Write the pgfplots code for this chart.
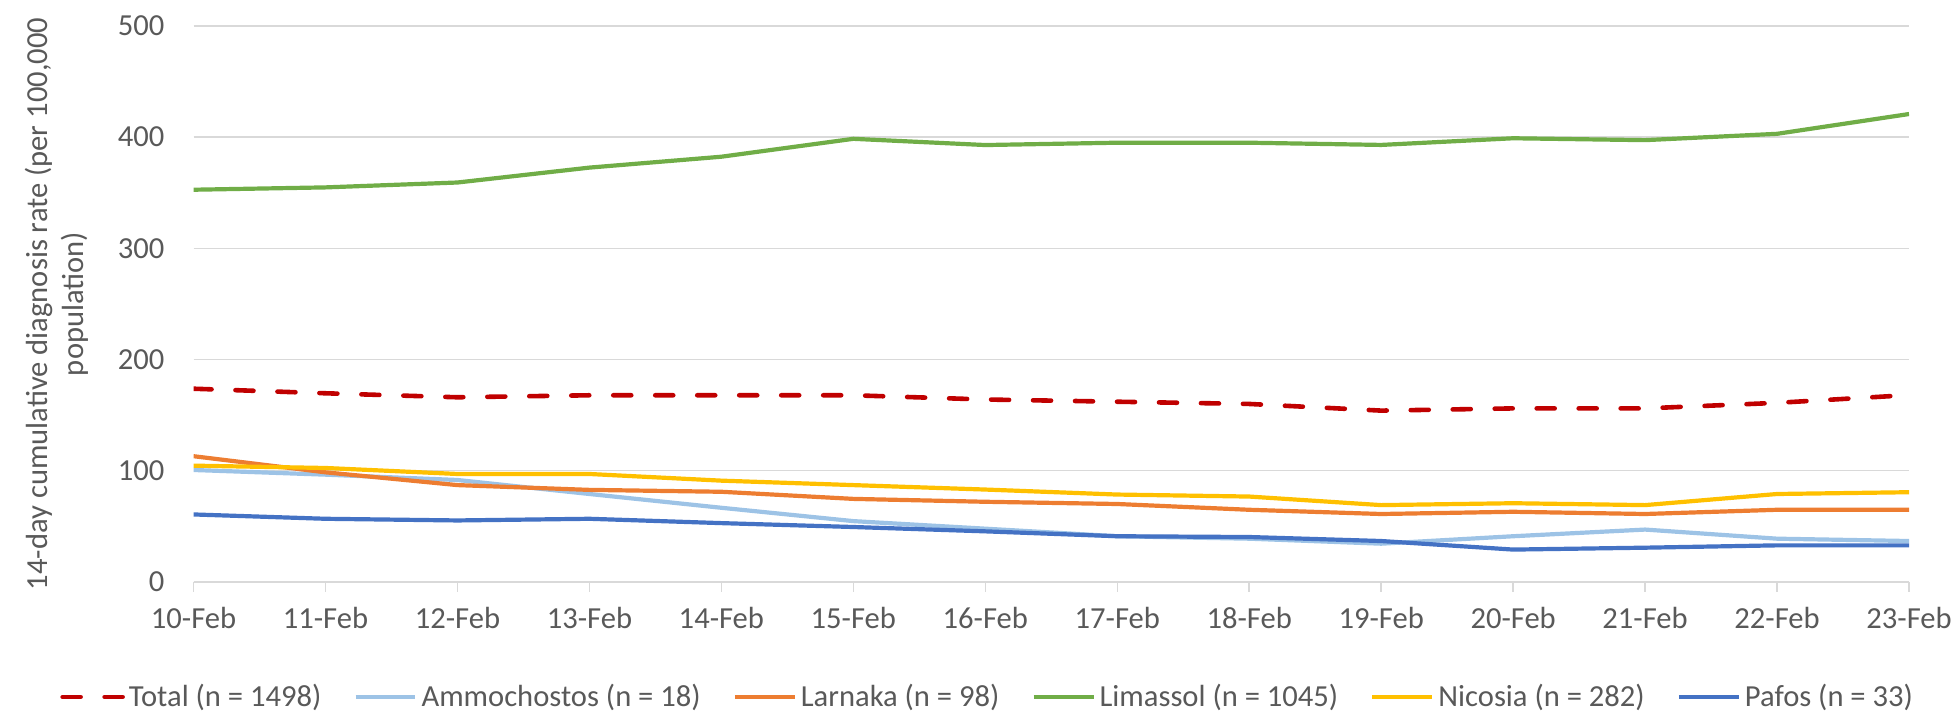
\documentclass[border=0pt]{standalone}
\usepackage{pgfplots}
\pgfplotsset{compat=1.18}
\usepackage{pgfplotstable}
\usepackage{fontspec}
\setmainfont{Carlito}
\definecolor{cTotal}{HTML}{C00000}
\definecolor{cAmmo}{HTML}{9DC3E6}
\definecolor{cLarn}{HTML}{ED7D31}
\definecolor{cLim}{HTML}{70AD47}
\definecolor{cNic}{HTML}{FFC000}
\definecolor{cPaf}{HTML}{4472C4}
\definecolor{gridgray}{HTML}{D9D9D9}
\definecolor{txtgray}{HTML}{595959}
\pgfplotstableread{
x Total Ammo Larn Lim Nic Paf
0 173.7 100.6 113 352.7 104.5 60.6
1 169.6 96.4 98.5 354.8 102.4 56.7
2 166 91.6 87 359.2 97 55.2
3 167.8 79 82.7 372.6 97 56.7
4 167.8 66.6 81 382.4 91 52.8
5 167.8 54.6 74.6 398.5 87 49.3
6 164 47.8 72 392.9 83 45.4
7 162 41 70 395 78.5 41
8 160 38.8 64.8 395 76.7 40.3
9 154 34.3 61 393 69 36.7
10 156 41 63 399 70.7 29
11 156 47 61 397.3 69 30.7
12 161 38.8 64.8 403 79 32.8
13 168 36.7 64.8 420.8 80.6 32.8
}\datatab
\begin{document}
\begin{tikzpicture}[font=\fontsize{15.3}{18}\selectfont]
\begin{axis}[
  scale only axis, width=858pt, height=278pt,
  xmin=0, xmax=13, ymin=0, ymax=500,
  /pgf/number format/assume math mode=true,
  xtick={0,...,13},
  xticklabels={10-Feb,11-Feb,12-Feb,13-Feb,14-Feb,15-Feb,16-Feb,17-Feb,18-Feb,19-Feb,20-Feb,21-Feb,22-Feb,23-Feb},
  ytick={0,100,...,500},
  ymajorgrids, grid style={draw=gridgray, line width=0.75pt},
  axis x line*=bottom, axis y line*=left,
  x axis line style={draw=gridgray, line width=0.75pt, -},
  y axis line style={draw=none},
  tick align=outside, major tick length=5pt,
  xtick style={draw=gridgray, line width=0.75pt},
  ytick style={draw=none},
  tick label style={text=txtgray},
  xticklabel style={yshift=-4pt},
  yticklabel style={xshift=-6pt},
  ylabel={14-day cumulative diagnosis rate (per 100,000\\population)},
  ylabel style={align=center, text=txtgray, at={(axis description cs:-0.057,0.5)}, anchor=south, rotate=0},
  line join=round,
  legend columns=6,
  legend cell align=left,
  legend style={draw=none, fill=none, at={(0.4635,-0.207)}, anchor=center, text=txtgray,
    /tikz/every odd column/.append style={column sep=0pt},
    /tikz/every even column/.append style={column sep=14pt}},
  legend image code/.code={\draw[#1] (0pt,0pt) -- (30pt,0pt);},
]
\addplot[cTotal, line width=2.3pt, line cap=round, dash pattern=on 9pt off 12pt] table[x=x,y=Total]{\datatab};
\addlegendentry{Total (n = 1498)}
\addplot[cAmmo, line width=2.1pt] table[x=x,y=Ammo]{\datatab};
\addlegendentry{Ammochostos (n = 18)}
\addplot[cLarn, line width=2.1pt] table[x=x,y=Larn]{\datatab};
\addlegendentry{Larnaka (n = 98)}
\addplot[cLim, line width=2.1pt] table[x=x,y=Lim]{\datatab};
\addlegendentry{Limassol (n = 1045)}
\addplot[cNic, line width=2.1pt] table[x=x,y=Nic]{\datatab};
\addlegendentry{Nicosia (n = 282)}
\addplot[cPaf, line width=2.1pt] table[x=x,y=Paf]{\datatab};
\addlegendentry{Pafos (n = 33)}
\end{axis}
\path ([shift={(-96.8pt,-69.5pt)}]current axis.south west) rectangle ([shift={(25pt,13pt)}]current axis.north east);
\end{tikzpicture}
\end{document}
